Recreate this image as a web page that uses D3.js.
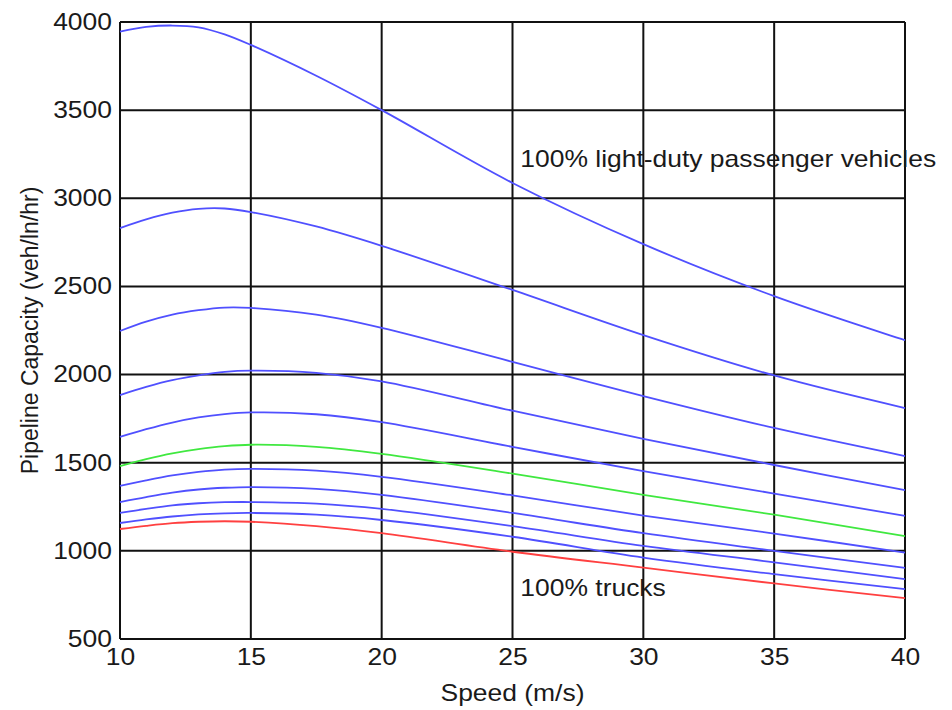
<!DOCTYPE html>
<html>
<head>
<meta charset="utf-8">
<script src="https://cdn.jsdelivr.net/npm/d3@7"></script>
<style>
  body { margin: 0; background: #fff; }
  text { font-family: "Liberation Sans", Arial, sans-serif; fill: #1a1a1a; }
</style>
</head>
<body>
<svg id="chart"></svg>
<script>
// speed (m/s) at which each curve was read
let speeds = [10, 11, 12, 13, 14, 15, 17.5, 20, 25, 30, 35, 40]

// capacity (veh/ln/hr), top curve = 100% light-duty, bottom = 100% trucks
let cap0   = [3945, 3972, 3980, 3970, 3930, 3870, 3695, 3500, 3087, 2740, 2445, 2195]
let cap10  = [2831, 2880, 2918, 2940, 2942, 2922, 2840, 2730, 2480, 2224, 1995, 1810]
let cap20  = [2247, 2300, 2340, 2365, 2380, 2378, 2340, 2265, 2072, 1878, 1697, 1538]
let cap30  = [1884, 1930, 1968, 1995, 2015, 2022, 2010, 1962, 1795, 1635, 1487, 1345]
let cap40  = [1646, 1690, 1728, 1757, 1776, 1785, 1775, 1730, 1590, 1452, 1325, 1198]
let cap50  = [1481, 1520, 1553, 1577, 1594, 1602, 1590, 1550, 1438, 1318, 1205, 1084]
let cap60  = [1368, 1400, 1428, 1448, 1461, 1465, 1455, 1420, 1315, 1200, 1098, 990]
let cap70  = [1277, 1305, 1330, 1348, 1358, 1362, 1352, 1318, 1215, 1100, 1000, 903]
let cap80  = [1215, 1238, 1258, 1270, 1276, 1277, 1268, 1238, 1140, 1028, 935, 840]
let cap90  = [1158, 1178, 1195, 1207, 1213, 1215, 1205, 1175, 1080, 962, 868, 783]
let cap100 = [1124, 1142, 1157, 1165, 1168, 1165, 1140, 1100, 995, 905, 815, 732]

let series = [cap0, cap10, cap20, cap30, cap40, cap50, cap60, cap70, cap80, cap90, cap100]
let seriesColors = ['#5050ff', '#5050ff', '#5050ff', '#5050ff', '#5050ff', '#40e840',
                    '#5050ff', '#5050ff', '#5050ff', '#5050ff', '#ff4040']

let xTicks = [10, 15, 20, 25, 30, 35, 40]
let yTicks = [500, 1000, 1500, 2000, 2500, 3000, 3500, 4000]

let notes = [
    { text: '100% light-duty passenger vehicles', x: 25.3, y: 3175 },
    { text: '100% trucks', x: 25.3, y: 745 }
]

let width = 952, height = 710
let margin = { top: 22, right: 47, bottom: 71, left: 120 }
let stretch = 'scale(1.15,1)'   // the source text is a bit wider than it is tall

let svg = d3.select('#chart')
    .attr('width', width)
    .attr('height', height)

let x = d3.scaleLinear().domain([10, 40]).range([margin.left, width - margin.right])
let y = d3.scaleLinear().domain([500, 4000]).range([height - margin.bottom, margin.top])

// grid
svg.append('g')
    .selectAll('line')
    .data(xTicks)
    .join('line')
    .attr('x1', d => x(d)).attr('x2', d => x(d))
    .attr('y1', y(500)).attr('y2', y(4000))
    .attr('stroke', '#111').attr('stroke-width', 2)

svg.append('g')
    .selectAll('line')
    .data(yTicks)
    .join('line')
    .attr('x1', x(10)).attr('x2', x(40))
    .attr('y1', d => y(d)).attr('y2', d => y(d))
    .attr('stroke', '#111').attr('stroke-width', 2)

// axes (labels only, the frame comes from the grid)
let xAxis = svg.append('g')
    .attr('transform', `translate(0,${y(500)})`)
    .call(d3.axisBottom(x).tickValues(xTicks).tickFormat(d3.format('d')).tickSize(0).tickPadding(10))
xAxis.select('.domain').remove()
xAxis.selectAll('text').attr('font-size', 23).attr('fill', '#1a1a1a')
    .attr('font-family', '"Liberation Sans", Arial, sans-serif')
    .attr('transform', stretch)

let yAxis = svg.append('g')
    .attr('transform', `translate(${x(10)},0)`)
    .call(d3.axisLeft(y).tickValues(yTicks).tickFormat(d3.format('d')).tickSize(0).tickPadding(7))
yAxis.select('.domain').remove()
yAxis.selectAll('text').attr('font-size', 23).attr('fill', '#1a1a1a')
    .attr('font-family', '"Liberation Sans", Arial, sans-serif')
    .attr('transform', stretch)

// curves
let line = d3.line()
    .x((d, i) => x(speeds[i]))
    .y(d => y(d))
    .curve(d3.curveCatmullRom)

svg.append('g')
    .selectAll('path')
    .data(series)
    .join('path')
    .attr('d', d => line(d))
    .attr('fill', 'none')
    .attr('stroke', (d, i) => seriesColors[i])
    .attr('stroke-width', 1.8)

// annotations
svg.append('g')
    .selectAll('text')
    .data(notes)
    .join('text')
    .attr('transform', d => `translate(${x(d.x)},${y(d.y)}) ${stretch}`)
    .attr('font-size', 23)
    .text(d => d.text)

// axis titles
svg.append('text')
    .attr('transform', `translate(${(x(10) + x(40)) / 2},701) ${stretch}`)
    .attr('text-anchor', 'middle')
    .attr('font-size', 23)
    .text('Speed (m/s)')

svg.append('text')
    .attr('transform', `translate(38,${(y(500) + y(4000)) / 2}) rotate(-90)`)
    .attr('text-anchor', 'middle')
    .attr('font-size', 23)
    .text('Pipeline Capacity (veh/ln/hr)')
</script>
</body>
</html>
